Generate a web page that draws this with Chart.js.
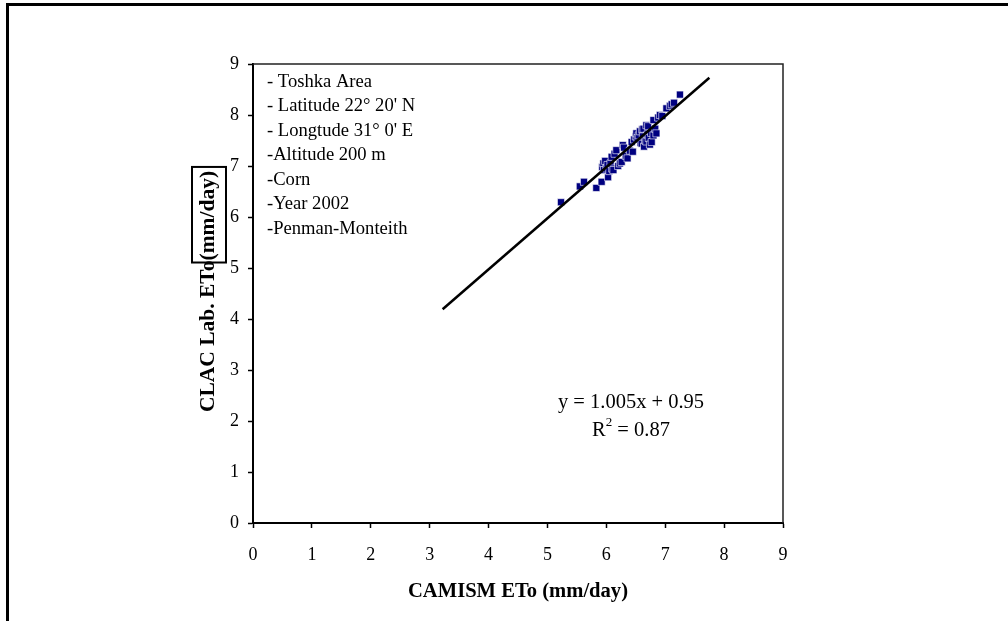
<!DOCTYPE html>
<html>
<head>
<meta charset="utf-8">
<script src="https://cdn.jsdelivr.net/npm/chart.js@4.4.0/dist/chart.umd.min.js"></script>
<style>
  html, body { margin: 0; padding: 0; background: #fff; }
  #wrap { position: relative; width: 1008px; height: 621px; overflow: hidden; }
  #frame { position: absolute; left: 6px; top: 3px; width: 1100px; height: 700px;
           border-top: 3px solid #000; border-left: 3px solid #000; }
  #chart { position: absolute; left: 0; top: 0; }
</style>
</head>
<body>
<div id="wrap">
  <div id="frame"></div>
  <canvas id="chart" width="1008" height="621"></canvas>
</div>
<script>
// ETo comparison - CAMISM vs CLAC lab

const camismEto = [5.23, 5.55, 5.62, 5.83, 5.92, 5.93, 5.95, 5.96, 5.98, 6.00,
    6.02, 6.03, 6.05, 6.07, 6.09, 6.10, 6.12, 6.14, 6.17, 6.20,
    6.23, 6.26, 6.28, 6.30, 6.33, 6.36, 6.40, 6.43, 6.45, 6.47,
    6.50, 6.51, 6.53, 6.55, 6.57, 6.58, 6.60, 6.61, 6.62, 6.63,
    6.64, 6.66, 6.68, 6.68, 6.70, 6.71, 6.72, 6.74, 6.76, 6.77,
    6.80, 6.80, 6.83, 6.85, 6.88, 6.91, 6.95, 7.02, 7.08, 7.11,
    7.15, 7.25];
const clacEto = [6.29, 6.60, 6.69, 6.57, 6.69, 6.98, 7.05, 6.92, 7.10, 6.95,
    7.02, 6.78, 6.90, 7.05, 7.18, 6.95, 6.92, 7.24, 7.31, 7.00,
    7.05, 7.08, 7.41, 7.36, 7.20, 7.15, 7.30, 7.47, 7.28, 7.52,
    7.58, 7.64, 7.55, 7.60, 7.68, 7.45, 7.44, 7.72, 7.58, 7.73,
    7.38, 7.50, 7.80, 7.48, 7.62, 7.78, 7.55, 7.42, 7.65, 7.47,
    7.60, 7.90, 7.73, 7.64, 7.95, 8.00, 7.98, 8.13, 8.18, 8.21,
    8.24, 8.40];

// fitted line ends as drawn
const trendX = [3.22, 7.75];
const trendY = [4.19, 8.73];

const tickValues = [0, 1, 2, 3, 4, 5, 6, 7, 8, 9];

const notes = ["- Toshka Area", "- Latitude 22\u00B0 20' N", "- Longtude 31\u00B0 0' E",
    "-Altitude 200 m", "-Corn", "-Year 2002", "-Penman-Monteith"];
const equationText = "y = 1.005x + 0.95";
const r2Text = " = 0.87";
const xTitle = "CAMISM ETo (mm/day)";
const yTitleMain = "CLAC Lab. ETo";
const yTitleUnit = "(mm/day)";

const serif = "'Liberation Serif', 'Times New Roman', serif";

// text, plot frame and labels drawn on top
const chartText = {
    id: 'chartText',
    afterDraw(chart) {
        const ctx = chart.ctx;
        const a = chart.chartArea;
        ctx.save();

        // plot area frame (top + right)
        ctx.strokeStyle = '#222';
        ctx.lineWidth = 1.5;
        ctx.beginPath();
        ctx.moveTo(a.left, a.top);
        ctx.lineTo(a.right, a.top);
        ctx.lineTo(a.right, a.bottom);
        ctx.stroke();

        ctx.fillStyle = '#000';

        // notes block
        ctx.font = '18.6px ' + serif;
        ctx.textAlign = 'left';
        ctx.textBaseline = 'middle';
        notes.forEach((line, i) => {
            ctx.fillText(line, a.left + 14, a.top + 18 + i * 24.5);
        });

        // equation
        const eqX = a.left + 378;
        ctx.textAlign = 'center';
        ctx.font = '20.5px ' + serif;
        ctx.fillText(equationText, eqX, a.top + 339);
        const rW = ctx.measureText('R').width;
        const restW = ctx.measureText(r2Text).width;
        ctx.font = '13px ' + serif;
        const supW = ctx.measureText('2').width;
        const total = rW + supW + restW;
        let sx = eqX - total / 2;
        ctx.textAlign = 'left';
        ctx.font = '20.5px ' + serif;
        ctx.fillText('R', sx, a.top + 367);
        ctx.font = '13px ' + serif;
        ctx.fillText('2', sx + rW, a.top + 359);
        ctx.font = '20.5px ' + serif;
        ctx.fillText(r2Text, sx + rW + supW, a.top + 367);

        // x title
        ctx.font = 'bold 20.6px ' + serif;
        ctx.textAlign = 'center';
        ctx.fillText(xTitle, (a.left + a.right) / 2, a.bottom + 69);

        // y title, rotated, with the box round the unit
        ctx.font = 'bold 21.5px ' + serif;
        ctx.translate(a.left - 45, (a.top + a.bottom) / 2 - 2);
        ctx.rotate(-Math.PI / 2);
        const mainW = ctx.measureText(yTitleMain).width;
        const unitW = ctx.measureText(yTitleUnit).width;
        const start = -(mainW + unitW) / 2;
        ctx.textAlign = 'left';
        ctx.fillText(yTitleMain, start, 0);
        ctx.fillText(yTitleUnit, start + mainW, 0);
        ctx.lineWidth = 2;
        ctx.strokeStyle = '#000';
        ctx.strokeRect(start + mainW - 2, -16, unitW + 6, 34);

        ctx.restore();
    }
};

const scatterPoints = camismEto.map((x, i) => ({ x: x, y: clacEto[i] }));
const trendPoints = trendX.map((x, i) => ({ x: x, y: trendY[i] }));

const axisStyle = {
    type: 'linear',
    min: 0,
    max: 9,
    afterBuildTicks: s => { s.ticks = tickValues.map(v => ({ value: v })); },
    grid: {
        drawOnChartArea: false,
        drawTicks: true,
        tickLength: 5,
        tickWidth: 1.5,
        color: '#000'
    },
    border: { display: true, color: '#000', width: 2 },
    ticks: {
        color: '#000',
        font: { family: serif, size: 18 }
    }
};

new Chart(document.getElementById('chart'), {
    type: 'scatter',
    data: {
        datasets: [{
            type: 'line',
            data: trendPoints,
            borderColor: '#000',
            borderWidth: 2.5,
            pointRadius: 0,
            fill: false,
            order: 0
        }, {
            data: scatterPoints,
            pointStyle: 'rect',
            pointRadius: 5,
            backgroundColor: '#000080',
            borderColor: '#fff',
            borderWidth: 0.6,
            order: 1
        }]
    },
    options: {
        responsive: false,
        animation: false,
        layout: { padding: { top: 64, right: 225, left: 0, bottom: 0 } },
        scales: {
            x: Object.assign({}, axisStyle, {
                afterFit: s => { s.height = 98; },
                ticks: Object.assign({}, axisStyle.ticks, { padding: 16, maxRotation: 0 })
            }),
            y: Object.assign({}, axisStyle, {
                afterFit: s => { s.width = 253; },
                ticks: Object.assign({}, axisStyle.ticks, { padding: 9 })
            })
        },
        plugins: {
            legend: { display: false },
            tooltip: { enabled: false }
        }
    },
    plugins: [chartText]
});
</script>
</body>
</html>
